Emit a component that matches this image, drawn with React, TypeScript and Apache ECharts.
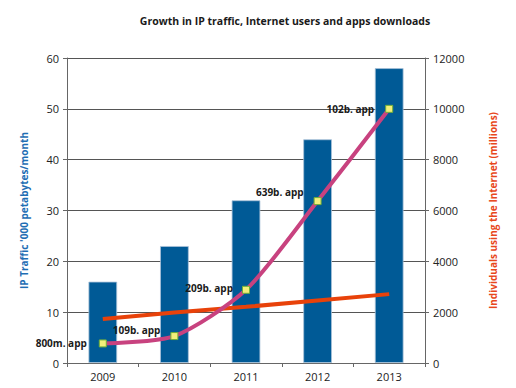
import React, { useEffect, useRef } from "react";
import * as echarts from "echarts";

const years = ["2009", "2010", "2011", "2012", "2013"];
const ipTraffic = [16, 23, 32, 44, 58];
const internetUsers = [1730, 1990, 2210, 2460, 2710];
const appDownloads = [770, 1060, 2880, 6370, 10000];
const appLabels = ["800m. app", "109b. app", "209b. app", "639b. app", "102b. app"];
const appLabelOffsets: [number, number][] = [[-6, 0], [-4, -6], [-3, -2], [-4, -9], [-5, 0]];

const FONT = "Open Sans";

export default function App() {
  const ref = useRef<HTMLDivElement>(null);
  useEffect(() => {
    if (!ref.current) return;
    const chart = echarts.init(ref.current, undefined, { renderer: "svg" });
    const option = {
      animation: false,
      backgroundColor: "#ffffff",
      textStyle: { fontFamily: FONT },
      title: {
        text: "Growth in IP traffic, Internet users and apps downloads",
        left: 280,
        textAlign: "center",
        top: 10,
        textStyle: { fontFamily: FONT, fontSize: 10.5, fontWeight: "bold", color: "#1a1a1a" },
      },
      grid: { left: 67, right: 91, top: 58, bottom: 25, outerBoundsMode: "none" },
      xAxis: {
        type: "category",
        data: years,
        axisLine: { lineStyle: { color: "#666666" } },
        axisTick: { show: true, alignWithLabel: false, length: 4, lineStyle: { color: "#666666" } },
        axisLabel: { color: "#222222", fontSize: 11, margin: 8, fontFamily: FONT },
      },
      yAxis: [
        {
          type: "value",
          min: 0,
          max: 60,
          interval: 10,
          name: "IP Traffic '000 petabytes/month",
          nameLocation: "middle",
          nameGap: 38,
          nameRotate: 90,
          nameTextStyle: { color: "#1f6eb4", fontSize: 10, fontWeight: "bold", fontFamily: FONT },
          axisLine: { show: true, lineStyle: { color: "#666666" } },
          axisTick: { show: true, length: 4, lineStyle: { color: "#666666" } },
          axisLabel: { color: "#222222", fontSize: 11, margin: 8, fontFamily: FONT },
          splitLine: { lineStyle: { color: "#555555", width: 1 } },
        },
        {
          type: "value",
          min: 0,
          max: 12000,
          interval: 2000,
          position: "right",
          name: "Individuals using the Internet (millions)",
          nameLocation: "middle",
          nameGap: 63,
          nameRotate: 90,
          nameTextStyle: { color: "#e8471c", fontSize: 10, fontWeight: "bold", fontFamily: FONT },
          axisLine: { show: true, lineStyle: { color: "#666666" } },
          axisTick: { show: true, length: 4, lineStyle: { color: "#666666" } },
          axisLabel: {
            color: "#222222",
            fontSize: 11,
            margin: 8,
            fontFamily: FONT,
            formatter: (v: number) => String(v),
          },
          splitLine: { show: false },
        },
      ],
      series: [
        {
          type: "bar",
          data: ipTraffic,
          yAxisIndex: 0,
          barWidth: "40%",
          itemStyle: { color: "#005a96", borderColor: "#a9c1d8", borderWidth: 0.8 },
          z: 1,
        },
        {
          type: "line",
          data: internetUsers,
          yAxisIndex: 1,
          showSymbol: false,
          symbol: "none",
          lineStyle: { color: "#e8420a", width: 4 },
          z: 3,
        },
        {
          type: "line",
          yAxisIndex: 1,
          smooth: 0.25,
          symbol: "rect",
          symbolSize: 7,
          itemStyle: { color: "#f2ef7a", borderColor: "#6fae3a", borderWidth: 1 },
          lineStyle: { color: "#c8427f", width: 4 },
          data: appDownloads.map((v, i) => ({
            value: v,
            label: {
              show: true,
              formatter: appLabels[i],
              position: "left",
              distance: 6,
              offset: appLabelOffsets[i],
              color: "#1a1a1a",
              fontSize: 10,
              fontWeight: "bold",
              fontFamily: FONT,
            },
          })),
          z: 4,
        },
      ],
    };
    chart.setOption(option as any);
    return () => chart.dispose();
  }, []);
  return (
    <div
      ref={ref}
      style={{ position: "absolute", left: 0, top: 0, width: 516, height: 388 }}
    />
  );
}
